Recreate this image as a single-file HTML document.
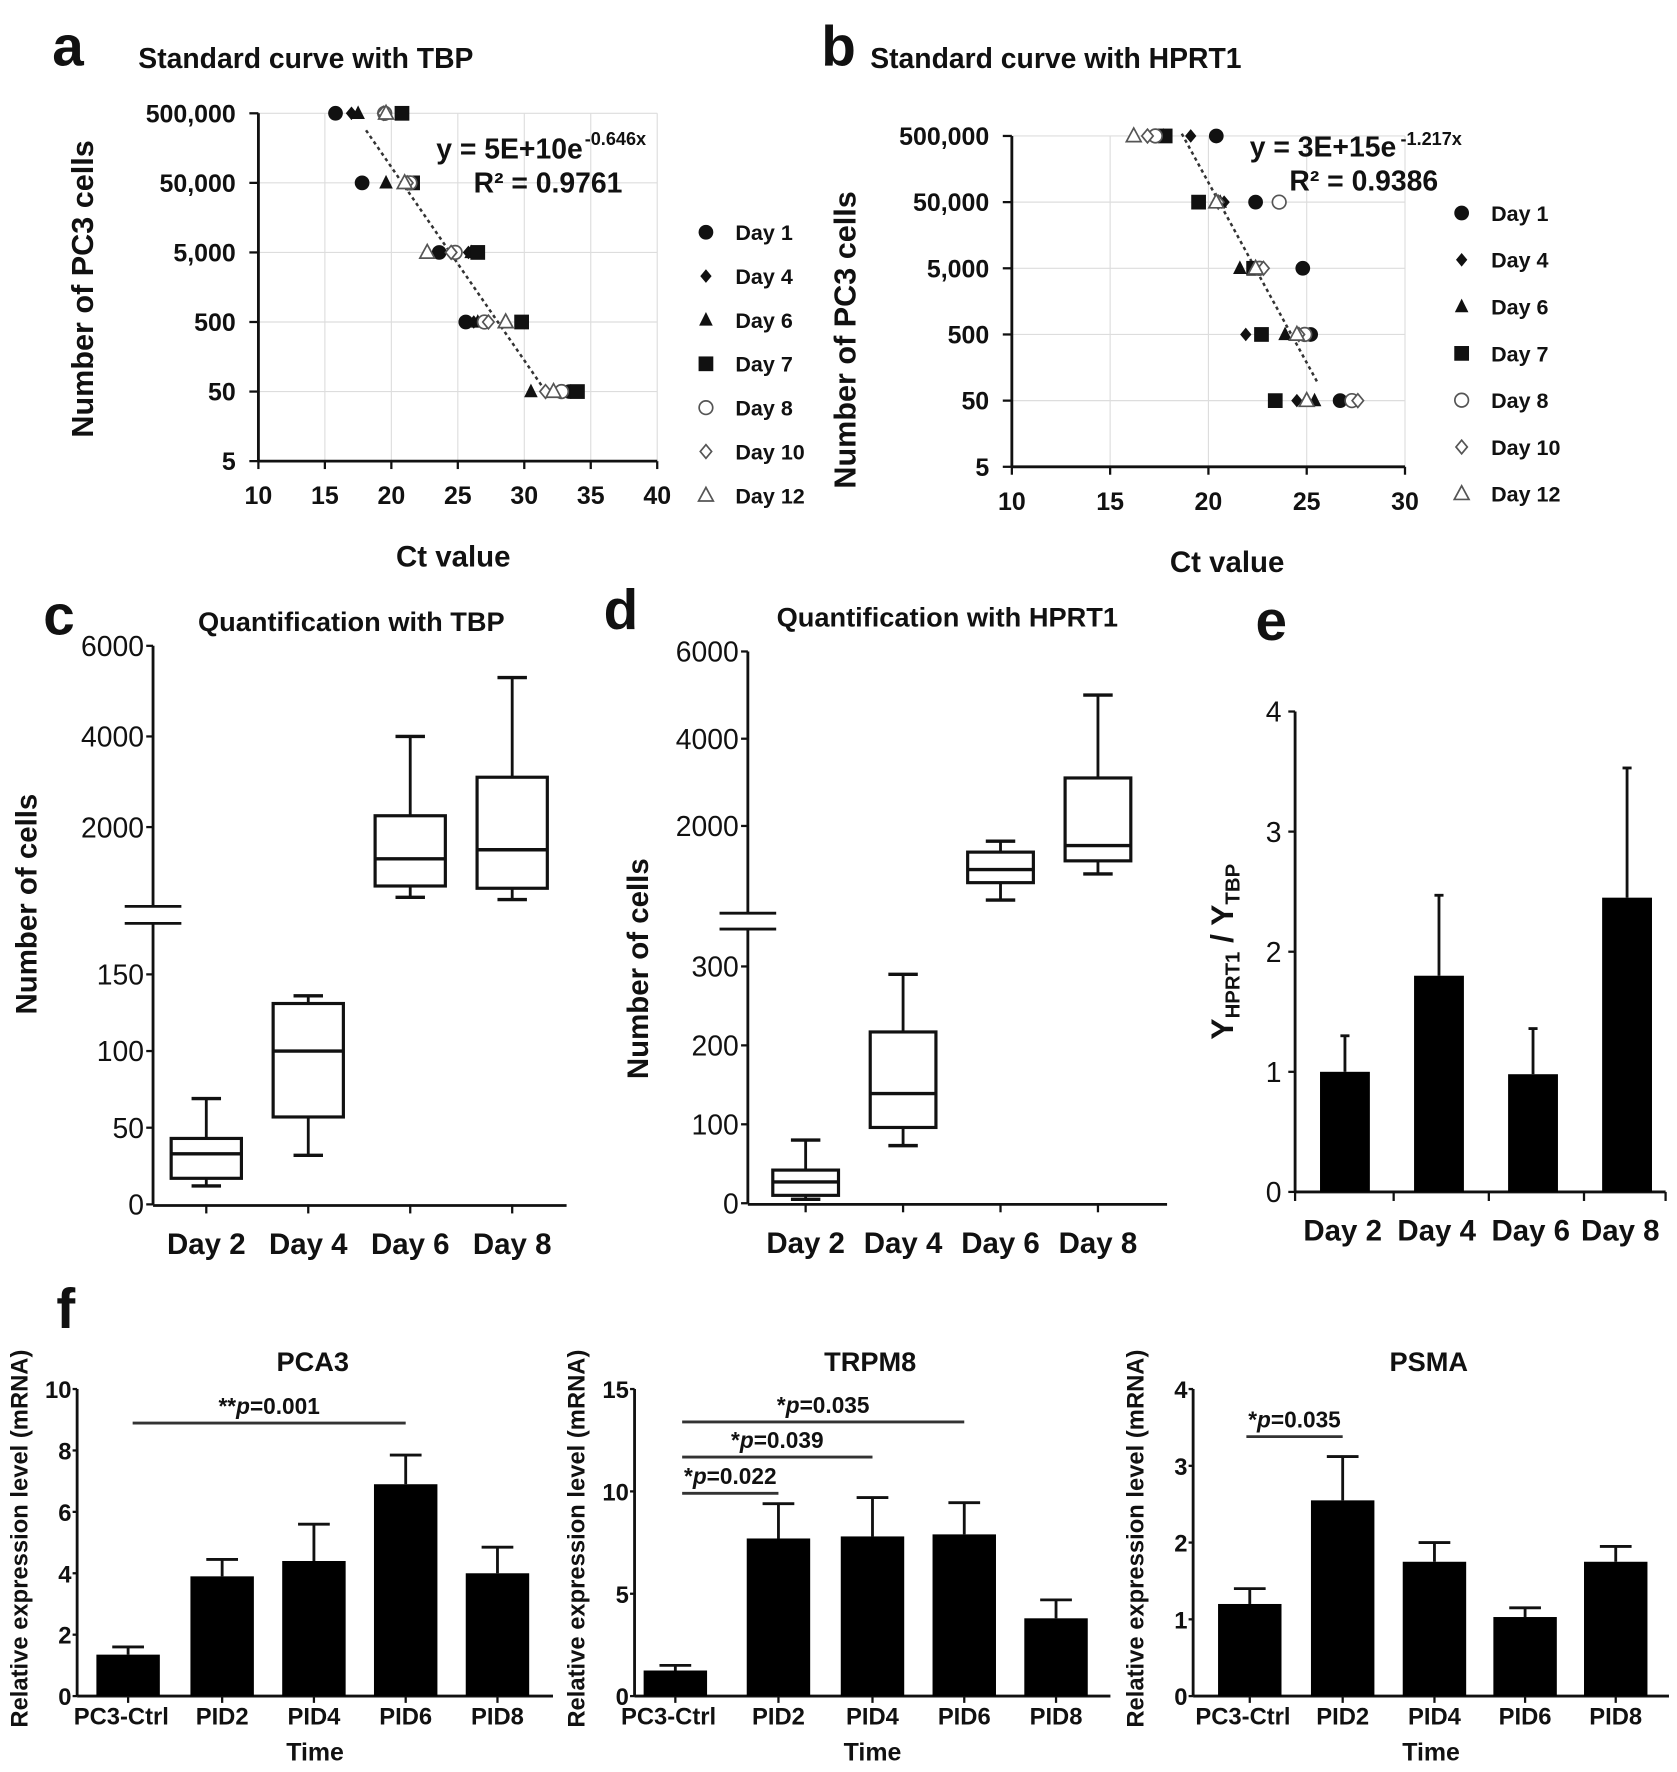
<!DOCTYPE html>
<html><head><meta charset="utf-8"><style>
html,body{margin:0;padding:0;background:#fff;}
svg{display:block;}
text{font-family:"Liberation Sans Narrow","Liberation Sans",Arial,sans-serif;fill:#111;}
</style></head><body>
<svg id="fig" width="1677" height="1772" viewBox="0 0 1480 1564" xmlns="http://www.w3.org/2000/svg"></svg>
<script>
// ---------- Panel a data (Ct values at each dilution) ----------
const aCells = [500000, 50000, 5000, 500, 50];
const aDay1  = [15.8, 17.8, 23.6, 25.6, 33.4];
const aDay4  = [17.0, 21.3, 25.8, 26.2, 33.2];
const aDay6  = [17.5, 19.6, 26.0, 26.5, 30.5];
const aDay7  = [20.8, 21.6, 26.5, 29.8, 34.0];
const aDay8  = [19.5, 21.4, 24.8, 27.0, 32.8];
const aDay10 = [19.4, 21.2, 24.5, 27.3, 31.6];
const aDay12 = [19.6, 21.0, 22.7, 28.6, 32.2];
const aXTicks = [10, 15, 20, 25, 30, 35, 40];
// ---------- Panel b data ----------
const bCells = [500000, 50000, 5000, 500, 50];
const bDay1  = [20.4, 22.4, 24.8, 25.2, 26.7];
const bDay4  = [19.1, 20.8, 22.5, 21.9, 24.5];
const bDay6  = [17.7, 20.6, 21.6, 23.9, 25.4];
const bDay7  = [17.8, 19.5, 22.3, 22.7, 23.4];
const bDay8  = [17.3, 23.6, 22.6, 24.9, 27.3];
const bDay10 = [16.9, 20.5, 22.8, 24.6, 27.6];
const bDay12 = [16.2, 20.4, 22.4, 24.5, 25.0];
const bXTicks = [10, 15, 20, 25, 30];
const yLogTicks = [500000, 50000, 5000, 500, 50, 5];
const yLogLabels = ["500,000", "50,000", "5,000", "500", "50", "5"];
const legendDays = ["Day 1", "Day 4", "Day 6", "Day 7", "Day 8", "Day 10", "Day 12"];
// ---------- Panel c / d box plots ----------
const boxDays = ["Day 2", "Day 4", "Day 6", "Day 8"];
const cMin = [12, 32, 450, 400];
const cQ1  = [17, 57, 700, 650];
const cMed = [33, 100, 1300, 1500];
const cQ3  = [43, 131, 2250, 3100];
const cMax = [69, 136, 4000, 5300];
const cLowTicks = [0, 50, 100, 150];
const cHighTicks = [2000, 4000, 6000];
const dMin = [5, 73, 300, 900];
const dQ1  = [10, 96, 700, 1200];
const dMed = [27, 139, 1000, 1550];
const dQ3  = [42, 217, 1400, 3100];
const dMax = [80, 290, 1650, 5000];
const dLowTicks = [0, 100, 200, 300];
const dHighTicks = [2000, 4000, 6000];
// ---------- Panel e ----------
const eValues = [1.0, 1.8, 0.98, 2.45];
const eErrTop = [1.3, 2.47, 1.36, 3.53];
const eTicks = [0, 1, 2, 3, 4];
// ---------- Panel f ----------
const fGroups = ["PC3-Ctrl", "PID2", "PID4", "PID6", "PID8"];
const pca3Values = [1.35, 3.9, 4.4, 6.9, 4.0];
const pca3ErrTop = [1.6, 4.45, 5.6, 7.85, 4.85];
const pca3Ticks = [0, 2, 4, 6, 8, 10];
const trpm8Values = [1.25, 7.7, 7.8, 7.9, 3.8];
const trpm8ErrTop = [1.5, 9.4, 9.7, 9.45, 4.7];
const trpm8Ticks = [0, 5, 10, 15];
const psmaValues = [1.2, 2.55, 1.75, 1.03, 1.75];
const psmaErrTop = [1.4, 3.12, 2.0, 1.15, 1.95];
const psmaTicks = [0, 1, 2, 3, 4];

const NS = "http://www.w3.org/2000/svg";
const svg = document.getElementById("fig");
function mk(tag, attrs, parent) {
  const e = document.createElementNS(NS, tag);
  for (const k in attrs) e.setAttribute(k, attrs[k]);
  (parent || svg).appendChild(e);
  return e;
}
function txt(x, y, s, size, weight, anchor, rot) {
  const t = mk("text", {x: x, y: y, "font-size": size, "font-weight": weight || "bold", "text-anchor": anchor || "middle"});
  if (rot) t.setAttribute("transform", "rotate(-90 " + x + " " + y + ")");
  t.textContent = s;
  return t;
}
function line(x1, y1, x2, y2, w, col, dash) {
  const l = mk("line", {x1: x1, y1: y1, x2: x2, y2: y2, stroke: col || "#111", "stroke-width": w || 2.5});
  if (dash) l.setAttribute("stroke-dasharray", dash);
  return l;
}
function marker(kind, x, y) {
  const dark = "#111", open = "#555";
  let e;
  if (kind === 0) e = mk("circle", {cx: x, cy: y, r: 6.5, fill: dark});
  else if (kind === 1) e = mk("polygon", {points: `${x},${y-6} ${x+5},${y} ${x},${y+6} ${x-5},${y}`, fill: dark});
  else if (kind === 2) e = mk("polygon", {points: `${x},${y-7} ${x+6},${y+5} ${x-6},${y+5}`, fill: dark});
  else if (kind === 3) e = mk("rect", {x: x-6.5, y: y-6.5, width: 13, height: 13, fill: dark});
  else if (kind === 4) e = mk("circle", {cx: x, cy: y, r: 6, fill: "#fff", stroke: open, "stroke-width": 1.5});
  else if (kind === 5) e = mk("polygon", {points: `${x},${y-6} ${x+5},${y} ${x},${y+6} ${x-5},${y}`, fill: "#fff", stroke: open, "stroke-width": 1.5});
  else e = mk("polygon", {points: `${x},${y-7} ${x+6.5},${y+5} ${x-6.5},${y+5}`, fill: "#fff", stroke: open, "stroke-width": 1.5});
  return e;
}

// ================= Scatter panels =================
function scatterPanel(p) {
  const xs = v => p.x0 + (v - p.xmin) / (p.xmax - p.xmin) * (p.x1 - p.x0);
  const ys = v => p.yTop + (Math.log10(500000) - Math.log10(v)) / 5 * (p.yBot - p.yTop);
  let e;
  p.xticks.forEach(t => {
    e = line(xs(t), p.yTop, xs(t), p.yBot, 1, "#ddd");
    
    
    e = txt(xs(t), p.yBot + 38, String(t), 22, "bold");
    
    
    e = line(xs(t), p.yBot, xs(t), p.yBot + 7, 2);
    
    
  });
  yLogTicks.forEach((t, i) => {
    e = line(p.x0, ys(t), p.x1, ys(t), 1, "#ddd");
    
    
    e = line(p.x0 - 8, ys(t), p.x0, ys(t), 2);
    
    
    e = txt(p.x0 - 20, ys(t) + 8, yLogLabels[i], 22, "bold", "end");
    
    
  });
  e = line(p.x0, p.yTop, p.x0, p.yBot, 2.5);
  
  
  e = line(p.x0, p.yBot, p.x1, p.yBot, 2.5);
  
  
  e = line(p.tx0, p.ty0, p.tx1, p.ty1, 2.2, "#333", "3,3");
  
  
  p.series.forEach((s, k) => {
    s.forEach((ct, i) => {
      const m = marker(k, xs(ct), ys(p.cells[i]));
      
      
    });
  });
  legendDays.forEach((d, k) => {
    const ly = p.legY0 + k * p.legDy;
    const m = marker(k, p.legX, ly);
    
    
    const t = txt(p.legX + 26, ly + 7, d, 19, "bold", "start");
    
    
  });
}
scatterPanel({x0: 228, x1: 580, xmin: 10, xmax: 40, yTop: 100, yBot: 407, xticks: aXTicks, cells: aCells,
  series: [aDay1, aDay4, aDay6, aDay7, aDay8, aDay10, aDay12], tx0: 323, ty0: 115, tx1: 486, ty1: 352,
  legX: 623, legY0: 205, legDy: 38.7});
scatterPanel({x0: 893, x1: 1240, xmin: 10, xmax: 30, yTop: 120, yBot: 412, xticks: bXTicks, cells: bCells,
  series: [bDay1, bDay4, bDay6, bDay7, bDay8, bDay10, bDay12], tx0: 1043, ty0: 118, tx1: 1163, ty1: 338,
  legX: 1290, legY0: 188, legDy: 41.3});

let el;
el = txt(60, 58, "a", 50, "bold");  
el = txt(122, 60, "Standard curve with TBP", 25, "bold", "start");  
el = txt(82, 255, "Number of PC3 cells", 27, "bold", "middle", true);  
el = txt(400, 500, "Ct value", 26, "bold");  
el = txt(385, 140, "y = 5E+10e", 25, "bold", "start");  
el = txt(516, 128, "-0.646x", 16, "bold", "start");  
el = txt(418, 170, "R² = 0.9761", 25, "bold", "start");  

el = txt(740, 58, "b", 50, "bold");  
el = txt(768, 60, "Standard curve with HPRT1", 25, "bold", "start");  
el = txt(755, 300, "Number of PC3 cells", 27, "bold", "middle", true);  
el = txt(1083, 505, "Ct value", 26, "bold");  
el = txt(1103, 138, "y = 3E+15e", 25, "bold", "start");  
el = txt(1236, 128, "-1.217x", 16, "bold", "start");  
el = txt(1138, 168, "R² = 0.9386", 25, "bold", "start");  

// ================= Box plots =================
function boxPanel(p) {
  const low = v => p.y0 - v * p.lowK;
  const high = v => p.hRefY - (v - 2000) * p.highK;
  const ys = v => v <= p.cut ? low(v) : high(v);
  const xs = i => p.xc0 + i * p.dx;
  let e;
  e = line(p.ax, p.yTopAxis, p.ax, p.breakTop, 2.5);  
  e = line(p.ax, p.breakBot, p.ax, p.y0, 2.5);  
  e = line(p.ax - 25, p.breakTop, p.ax + 25, p.breakTop, 2.5);  
  e = line(p.ax - 25, p.breakBot, p.ax + 25, p.breakBot, 2.5);  
  e = line(p.ax, p.y0 + 1, p.axEnd, p.y0 + 1, 2.5);  
  p.lowTicks.forEach(t => {
    e = line(p.ax - 6, low(t), p.ax, low(t), 2);  
    e = txt(p.ax - 8, low(t) + 9, String(t), 25, "normal", "end");  
  });
  p.highTicks.forEach(t => {
    e = line(p.ax - 6, high(t), p.ax, high(t), 2);  
    e = txt(p.ax - 8, high(t) + 9, String(t), 25, "normal", "end");  
  });
  boxDays.forEach((d, i) => {
    const x = xs(i), w = p.bw;
    e = line(x, p.y0, x, p.y0 + 8, 2);  
    e = txt(x, p.y0 + 44, d, 26, "bold");  
    e = line(x, ys(p.max[i]), x, ys(p.q3[i]), 2.5);  
    e = line(x, ys(p.q1[i]), x, ys(p.min[i]), 2.5);  
    e = line(x - 13, ys(p.max[i]), x + 13, ys(p.max[i]), 3);  
    e = line(x - 13, ys(p.min[i]), x + 13, ys(p.min[i]), 3);  
    e = mk("rect", {x: x - w / 2, y: ys(p.q3[i]), width: w, height: ys(p.q1[i]) - ys(p.q3[i]), fill: "#fff", stroke: "#111", "stroke-width": 2.8});
     
    e = line(x - w / 2, ys(p.med[i]), x + w / 2, ys(p.med[i]), 3);  
  });
}
boxPanel({ax: 135, axEnd: 500, y0: 1063, lowK: 203 / 150, hRefY: 730, highK: 0.04, cut: 200, yTopAxis: 570,
  breakTop: 800, breakBot: 815, xc0: 182, dx: 90, bw: 62, lowTicks: cLowTicks, highTicks: cHighTicks,
  min: cMin, q1: cQ1, med: cMed, q3: cQ3, max: cMax});
boxPanel({ax: 660, axEnd: 1030, y0: 1062, lowK: 209 / 300, hRefY: 729, highK: 0.0385, cut: 295, yTopAxis: 575,
  breakTop: 806, breakBot: 820, xc0: 711, dx: 86, bw: 58, lowTicks: dLowTicks, highTicks: dHighTicks,
  min: dMin, q1: dQ1, med: dMed, q3: dQ3, max: dMax});

el = txt(52, 560, "c", 50, "bold");  
el = txt(310, 557, "Quantification with TBP", 24, "bold");  
el = txt(32, 798, "Number of cells", 26, "bold", "middle", true);  
el = txt(548, 555, "d", 50, "bold");  
el = txt(836, 553, "Quantification with HPRT1", 24, "bold");  
el = txt(572, 855, "Number of cells", 26, "bold", "middle", true);  

// ================= Panel e =================
(function () {
  const ax = 1143, y0 = 1052, k = 106;
  const ys = v => y0 - v * k;
  const xs = i => 1187 + i * 83;
  let e;
  e = line(ax, ys(4), ax, y0, 2.5);  
  e = line(ax, y0, 1470, y0, 2.5);  
  eTicks.forEach(t => {
    e = line(ax - 6, ys(t), ax, ys(t), 2);  
    e = txt(ax - 12, ys(t) + 9, String(t), 25, "normal", "end");  
  });
  [1143, 1230, 1314, 1398, 1470].forEach(x => {
    e = line(x, y0, x, y0 + 8, 2);  
  });
  boxDays.forEach((d, i) => {
    const x = xs(i);
    e = line(x, ys(eErrTop[i]), x, ys(eValues[i]), 2.5);  
    e = line(x - 4, ys(eErrTop[i]), x + 4, ys(eErrTop[i]), 2.5);  
    e = mk("rect", {x: x - 22, y: ys(eValues[i]), width: 44, height: y0 - ys(eValues[i]), fill: "#000"});
     
    e = txt(x - 2 + (i === 3 ? -4 : 0), 1095, d, 26, "bold");  
  });
  e = txt(1122, 565, "e", 50, "bold");  
  const t = mk("text", {x: 1088, y: 840, "font-size": 28, "font-weight": "bold", "text-anchor": "middle", transform: "rotate(-90 1088 840)"});
  
  
  t.innerHTML = 'Y<tspan font-size="18" dy="6">HPRT1</tspan><tspan dy="-6"> / Y</tspan><tspan font-size="18" dy="6">TBP</tspan>';
})();

// ================= Panel f =================
function fPanel(p) {
  const ys = v => 1497 - v / p.max * 271;
  const xs = i => p.xc[i];
  let e;
  e = line(p.ax, 1226, p.ax, 1497, 2.5);  
  e = line(p.ax, 1497, p.ax + 420, 1497, 2.5);  
  p.ticks.forEach(t => {
    e = line(p.ax - 4, ys(t), p.ax, ys(t), 2);  
    e = txt(p.ax - 5, ys(t) + 8, String(t), 21, "bold", "end");  
  });
  fGroups.forEach((g, i) => {
    const x = xs(i), w = p.bw;
    e = line(x, ys(p.err[i]), x, ys(p.vals[i]), 2.5);  
    e = line(x - 14, ys(p.err[i]), x + 14, ys(p.err[i]), 2.5);  
    e = mk("rect", {x: x - w / 2, y: ys(p.vals[i]), width: w, height: 1497 - ys(p.vals[i]), fill: "#000"});
     
    e = line(x, 1497, x, 1503, 2);  
    e = txt(x + (i === 0 ? -6 : 0), 1522, g, 21, "bold");  
  });
  e = txt(p.ax + 210, 1554, "Time", 22, "bold");  
  e = txt(p.ax + 208, 1210, p.title, 24, "bold");  
  e = txt(p.ax - 44, 1358, "Relative expression level (mRNA)", 21, "bold", "middle", true);  
  p.sig.forEach(s => {
    e = line(xs(s[0]) + s[3], s[1], xs(s[2]), s[1], 2.5, "#333");  
    const t = mk("text", {x: (xs(s[0]) + s[3] + xs(s[2])) / 2, y: s[1] - 8, "font-size": 20, "font-weight": "bold", "text-anchor": "middle"});
    
    
    t.innerHTML = s[4] + '<tspan font-style="italic">p</tspan>=' + s[5];
  });
}
fPanel({ax: 68, max: 10, ticks: pca3Ticks, vals: pca3Values, err: pca3ErrTop, title: "PCA3", bw: 56,
  xc: [113, 196, 277, 358, 439], sig: [[0, 1256, 3, 4, "**", "0.001"]]});
fPanel({ax: 560, max: 15, ticks: trpm8Ticks, vals: trpm8Values, err: trpm8ErrTop, title: "TRPM8", bw: 56,
  xc: [596, 687, 770, 851, 932], sig: [[0, 1255, 3, 6, "*", "0.035"], [0, 1286, 2, 6, "*", "0.039"], [0, 1318, 1, 6, "*", "0.022"]]});
fPanel({ax: 1053, max: 4, ticks: psmaTicks, vals: psmaValues, err: psmaErrTop, title: "PSMA", bw: 56,
  xc: [1103, 1185, 1266, 1346, 1426], sig: [[0, 1268, 1, -3, "*", "0.035"]]});
el = txt(58, 1172, "f", 50, "bold");  
</script>
</body></html>
